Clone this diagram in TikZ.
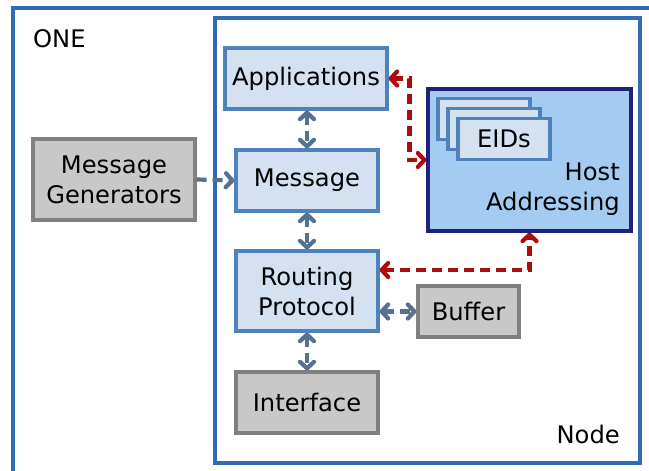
\documentclass[tikz,border=0pt]{standalone}
\usepackage{fontspec}
\setmainfont{DejaVu Sans}
\usetikzlibrary{arrows.meta,calc}
\definecolor{frameblue}{HTML}{2E6DB5}
\definecolor{lightfill}{HTML}{D4E1F0}
\definecolor{lightborder}{HTML}{4F81BD}
\definecolor{grayfill}{HTML}{C8C8C8}
\definecolor{grayborder}{HTML}{808080}
\definecolor{hostfill}{HTML}{A4CBF1}
\definecolor{hostborder}{HTML}{1F2378}
\definecolor{arrred}{HTML}{B00A0A}
\definecolor{arrblue}{HTML}{56708F}
\tikzset{
  bluebox/.style={draw=lightborder, fill=lightfill, line width=3.1pt, inner sep=0pt, align=center},
  graybox/.style={draw=grayborder, fill=grayfill, line width=3.1pt, inner sep=0pt, align=center},
  bluearr/.style={draw=arrblue, line width=4.2pt, dash pattern=on 10pt off 6pt,
     {Straight Barb[length=6.5pt,width=14pt,line cap=round,line join=round]}-{Straight Barb[length=6.5pt,width=14pt,line cap=round,line join=round]}},
  bluearrone/.style={draw=arrblue, line width=4.2pt, dash pattern=on 10pt off 6pt,
     -{Straight Barb[length=6.5pt,width=14pt,line cap=round,line join=round]}},
  redarr/.style={draw=arrred, line width=4.2pt, dash pattern=on 10pt off 6pt,
     {Straight Barb[length=6.5pt,width=14pt,line cap=round,line join=round]}-{Straight Barb[length=6.5pt,width=14pt,line cap=round,line join=round]}},
}
\begin{document}
\begin{tikzpicture}[x=1pt,y=-1pt,font=\fontsize{24.2}{30}\selectfont]
\useasboundingbox (0,0) rectangle (649,471);
\clip (0,0) rectangle (649,471);
\fill[white] (0,0) rectangle (649,471);
% outer ONE frame
\draw[frameblue, line width=3.1pt] (13,8) rectangle (720,540);
\node[anchor=base west, inner sep=0pt] (onelbl) at (33,48) {ONE};
% Node frame
\draw[frameblue, line width=3.1pt] (215,18) rectangle (640,463);
\node[anchor=base east, inner sep=0pt] (nodelbl) at (620,443) {Node};
% boxes
\node[bluebox, minimum width=162pt, minimum height=61pt] (apps) at (306,78.5) {Applications};
\node[bluebox, minimum width=142pt, minimum height=61pt] (msg) at (307,180.5) {Message};
\node[bluebox, minimum width=142pt, minimum height=80pt] (rp) at (307,291) {Routing\\Protocol};
\node[graybox, minimum width=142pt, minimum height=61pt] (iface) at (307,402.5) {Interface};
\node[graybox, minimum width=101pt, minimum height=51pt] (buf) at (468.5,311.5) {Buffer};
\node[graybox, minimum width=162pt, minimum height=81pt] (gen) at (114,179.5) {Message\\Generators};
\node[draw=hostborder, fill=hostfill, line width=3.1pt, minimum width=203pt, minimum height=142pt, inner sep=0pt] (host) at (529.5,160) {};
\node[bluebox, minimum width=92pt, minimum height=41pt] (eidA) at (484,119) {};
\node[bluebox, minimum width=92pt, minimum height=41pt] (eidB) at (494,129) {};
\node[bluebox, minimum width=92pt, minimum height=41pt] (eidC) at (504,139) {EIDs};
\node[anchor=base east, align=right, inner sep=0pt] (hostlbl) at (620,210) {Host\\Addressing};
% connectors
\draw[bluearrone] (gen.east) -- (msg.west);
\draw[bluearr] (apps.south -| msg.north) -- (msg.north);
\draw[bluearr] (msg.south) -- (rp.north);
\draw[bluearr] (rp.south) -- (iface.north);
\draw[bluearr] (buf.west -| rp.east) -- (buf.west);
\draw[redarr] (apps.east) -- ++(21,0) |- (host.west);
\draw[redarr] ([yshift=21pt]rp.east) -| (host.south);
\end{tikzpicture}
\end{document}
